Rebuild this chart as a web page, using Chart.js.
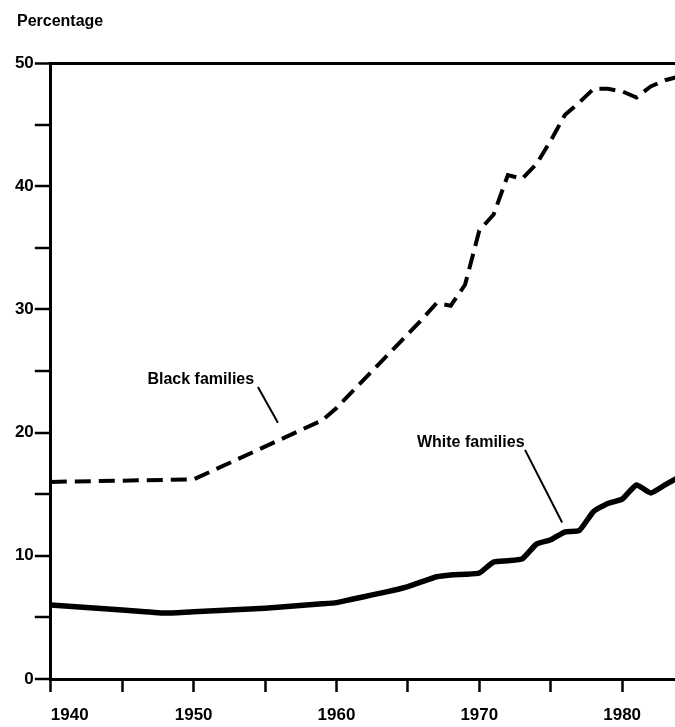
<!DOCTYPE html>
<html>
<head>
<meta charset="utf-8">
<script src="https://cdn.jsdelivr.net/npm/chart.js@4/dist/chart.umd.min.js"></script>
<style>
  html, body { margin: 0; padding: 0; background: #fff; }
  #wrap { width: 675px; height: 727px; position: relative; }
</style>
</head>
<body>
<div id="wrap"><canvas id="c"></canvas></div>
<script>
// data
const blackYears = [1940, 1950, 1959, 1960, 1961, 1962, 1963, 1964, 1965, 1966, 1967, 1968, 1969, 1970, 1971, 1972, 1973, 1974, 1975, 1976, 1977, 1978, 1979, 1980, 1981, 1982, 1983, 1984];
const blackValues = [16.0, 16.2, 21.0, 22.0, 23.2, 24.4, 25.6, 26.8, 28.0, 29.2, 30.5, 30.3, 32.0, 36.4, 37.7, 40.9, 40.6, 41.8, 43.7, 45.8, 46.8, 47.9, 47.9, 47.7, 47.2, 48.1, 48.6, 48.9];

const whiteYears = [1940, 1945, 1948, 1950, 1955, 1959, 1960, 1961, 1962, 1963, 1964, 1965, 1966, 1967, 1968, 1969, 1970, 1971, 1972, 1973, 1974, 1975, 1976, 1977, 1978, 1979, 1980, 1981, 1982, 1983, 1984];
const whiteValues = [6.0, 5.6, 5.35, 5.45, 5.75, 6.1, 6.2, 6.45, 6.7, 6.95, 7.2, 7.5, 7.9, 8.3, 8.45, 8.5, 8.6, 9.5, 9.6, 9.75, 10.95, 11.3, 11.95, 12.05, 13.6, 14.25, 14.6, 15.75, 15.1, 15.75, 16.4];

const yearTicks = [1940, 1945, 1950, 1955, 1960, 1965, 1970, 1975, 1980];
const yearLabels = [1940, 1950, 1960, 1970, 1980];
const pctTicks = [0, 10, 20, 30, 40, 50];

const FONT = '"Liberation Sans", Arial, sans-serif';

function toPoints(xs, ys) {
  return xs.map((x, i) => ({ x: x, y: ys[i] }));
}

// labels with leader lines, placed in data units
const callouts = [
  { text: 'Black families', x: 1950.5, y: 24.3, from: [1954.5, 23.7], to: [1955.9, 20.8] },
  { text: 'White families', x: 1969.4, y: 19.2, from: [1973.2, 18.6], to: [1975.8, 12.7] }
];

const extras = {
  id: 'extras',
  afterDatasetsDraw(chart) {
    const c = chart.ctx;
    const xs = chart.scales.x, ys = chart.scales.y;
    c.save();
    c.fillStyle = '#000';
    c.strokeStyle = '#000';
    c.font = 'bold 16px ' + FONT;
    c.textAlign = 'center';
    c.textBaseline = 'middle';
    callouts.forEach(a => {
      c.fillText(a.text, xs.getPixelForValue(a.x), ys.getPixelForValue(a.y));
      c.lineWidth = 2;
      c.beginPath();
      c.moveTo(xs.getPixelForValue(a.from[0]), ys.getPixelForValue(a.from[1]));
      c.lineTo(xs.getPixelForValue(a.to[0]), ys.getPixelForValue(a.to[1]));
      c.stroke();
    });
    c.textAlign = 'left';
    c.font = 'bold 16px ' + FONT;
    c.fillText('Percentage', 17, 22);
    c.restore();
  }
};

new Chart(document.getElementById('c'), {
  type: 'line',
  data: {
    datasets: [{
      label: 'Black families',
      data: toPoints(blackYears, blackValues),
      borderColor: '#000',
      borderWidth: 4,
      borderDash: [16, 8],
      pointRadius: 0,
      tension: 0
    }, {
      label: 'White families',
      data: toPoints(whiteYears, whiteValues),
      borderColor: '#000',
      borderWidth: 5.5,
      borderJoinStyle: 'round',
      pointRadius: 0,
      tension: 0.15
    }]
  },
  options: {
    responsive: true,
    maintainAspectRatio: false,
    animation: false,
    layout: { padding: { top: 63, right: 0, left: 0, bottom: 0 } },
    plugins: {
      legend: { display: false },
      tooltip: { enabled: false }
    },
    scales: {
      x: {
        type: 'linear',
        min: 1940,
        max: 1983.7,
        afterBuildTicks: s => { s.ticks = yearTicks.map(v => ({ value: v })); },
        afterFit: s => { s.height = 48; },
        border: { display: true, color: '#000', width: 3 },
        grid: { drawOnChartArea: false, drawTicks: true, tickLength: 13, tickColor: '#000', tickWidth: 2.5 },
        ticks: {
          autoSkip: false,
          maxRotation: 0,
          padding: 13,
          color: '#000',
          font: { family: FONT, size: 17, weight: 'bold' },
          callback: v => yearLabels.includes(v) ? (v === 1940 ? '        ' + v : String(v)) : ''
        }
      },
      y: {
        min: 0,
        max: 50,
        afterFit: s => { s.width = 49; },
        border: { display: true, color: '#000', width: 3 },
        grid: {
          drawOnChartArea: true,
          drawTicks: true,
          tickLength: 16,
          tickColor: '#000',
          tickWidth: 2.5,
          color: c => (c.tick && c.tick.value === 50) ? '#000' : 'rgba(0,0,0,0)',
          lineWidth: c => (c.tick && c.tick.value === 50) ? 3 : 0
        },
        ticks: {
          stepSize: 5,
          padding: 1,
          color: '#000',
          font: { family: FONT, size: 17, weight: 'bold' },
          callback: v => pctTicks.includes(v) ? String(v) : ''
        }
      }
    }
  },
  plugins: [extras]
});
</script>
</body>
</html>
